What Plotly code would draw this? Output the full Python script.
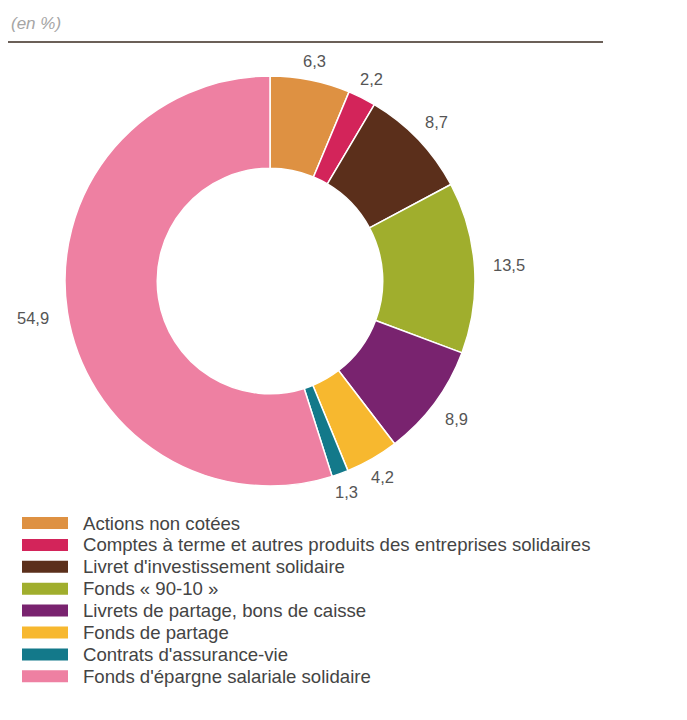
import math
import plotly.graph_objects as go

categories = [
    "Actions non cotées",
    "Comptes à terme et autres produits des entreprises solidaires",
    "Livret d'investissement solidaire",
    "Fonds « 90-10 »",
    "Livrets de partage, bons de caisse",
    "Fonds de partage",
    "Contrats d'assurance-vie",
    "Fonds d'épargne salariale solidaire",
]
values = [6.3, 2.2, 8.7, 13.5, 8.9, 4.2, 1.3, 54.9]
value_labels = ["6,3", "2,2", "8,7", "13,5", "8,9", "4,2", "1,3", "54,9"]
colors = ["#DE9142", "#D3245A", "#5B2F1B", "#A0AE2D", "#79236F", "#F7B82F", "#13798A", "#EE80A2"]

OFF = 8  # page body margin
W, H = 687 - OFF, 720 - OFF
FONT = "Liberation Sans, Arial, sans-serif"


def px(x):
    return (x - OFF) / W


def py(y):
    return 1 - (y - OFF) / H


# pie geometry (pixels in the screenshot)
cx, cy, R = 270, 281, 205

fig = go.Figure()
fig.add_trace(go.Pie(
    labels=categories, values=values, sort=False, direction="clockwise",
    rotation=0, hole=0.55, textinfo="none", hoverinfo="label+value",
    marker=dict(colors=colors, line=dict(color="white", width=1.5)),
    domain=dict(x=[px(cx - R), px(cx + R)], y=[py(cy + R), py(cy - R)]),
    showlegend=False,
))

annotations = []
shapes = []
total = sum(values)
cum = 0.0
for v, lab in zip(values, value_labels):
    mid = (cum + v / 2) / total * 2 * math.pi
    cum += v
    s, c = math.sin(mid), math.cos(mid)
    r = R + 19 + 16 * abs(s) ** 3
    x = cx + r * s
    y = cy - r * c
    annotations.append(dict(x=px(x), y=py(y), xref="paper", yref="paper",
                            text=lab, showarrow=False, xanchor="center", yanchor="middle",
                            font=dict(family=FONT, size=16.5, color="#555555")))

# title and rule
annotations.append(dict(x=px(9), y=py(23), xref="paper", yref="paper", text="<i>(en %)</i>",
                        showarrow=False, xanchor="left", yanchor="middle",
                        font=dict(family=FONT, size=17, color="#a5a5a5")))
shapes.append(dict(type="line", xref="paper", yref="paper", x0=px(8), x1=px(603),
                   y0=py(42), y1=py(42), line=dict(color="#6b6058", width=2)))

# custom legend
ly0, dy = 523, 21.9
for i, (cat, col) in enumerate(zip(categories, colors)):
    yc = ly0 + i * dy
    shapes.append(dict(type="rect", xref="paper", yref="paper", x0=px(22), x1=px(68),
                       y0=py(yc + 6), y1=py(yc - 6), fillcolor=col, line=dict(width=0)))
    annotations.append(dict(x=px(81), y=py(yc), xref="paper", yref="paper", text=cat,
                            showarrow=False, xanchor="left", yanchor="middle",
                            font=dict(family=FONT, size=18.6, color="#444444")))

fig.update_layout(width=W, height=H, margin=dict(l=0, r=0, t=0, b=0),
                  paper_bgcolor="white", plot_bgcolor="white",
                  annotations=annotations, shapes=shapes)
fig.write_html("out.html")
